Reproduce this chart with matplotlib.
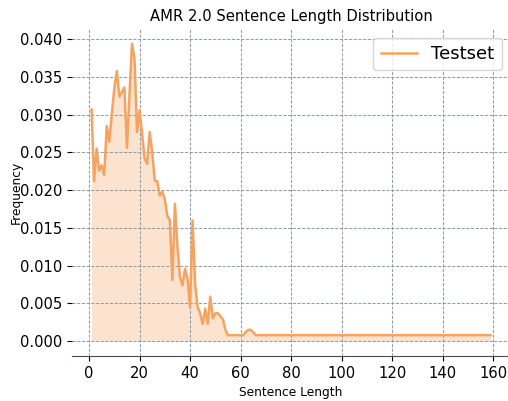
import matplotlib
matplotlib.use("Agg")
from matplotlib import pyplot as plt

# sentence lengths and their relative frequency in the test set
lengths = list(range(1, 56)) + [61, 62, 63, 64, 65, 66, 159]
freq = [0.0307, 0.0212, 0.0255, 0.0226, 0.0233, 0.0220, 0.0285, 0.0264, 0.0300, 0.0335,
        0.0358, 0.0324, 0.0330, 0.0336, 0.0256, 0.0325, 0.0394, 0.0374, 0.0277, 0.0306,
        0.0275, 0.0242, 0.0235, 0.0277, 0.0251, 0.0213, 0.0212, 0.0193, 0.0198, 0.0188,
        0.0166, 0.0160, 0.0081, 0.0182, 0.0125, 0.0085, 0.0074, 0.0096, 0.0083, 0.0045,
        0.0160, 0.0076, 0.0045, 0.0037, 0.0023, 0.0043, 0.0023, 0.0059, 0.0030, 0.0037,
        0.0037, 0.0033, 0.0029, 0.0015, 0.0008,
        0.0008, 0.0012, 0.0015, 0.0015, 0.0012, 0.0008, 0.0008]

color = "#f4a460"
fs = 10.6

fig = plt.figure(figsize=(5.08, 4.01), dpi=100)
ax = fig.add_axes([0.141, 0.112, 0.864, 0.816])

ax.plot(lengths, freq, color=color, lw=1.8, label="Testset")
ax.fill_between(lengths, freq, 0, color=color, alpha=0.3, lw=0)

ax.set_title("AMR 2.0 Sentence Length Distribution", fontsize=fs)
ax.set_xlabel("Sentence Length", fontsize=8.8)
ax.set_ylabel("Frequency", fontsize=8.8)
ax.yaxis.set_label_coords(-0.112, 0.5)
ax.set_xticks(range(0, 161, 20))
ax.set_yticks([0.0, 0.005, 0.01, 0.015, 0.02, 0.025, 0.03, 0.035, 0.04])
ax.yaxis.set_major_formatter(matplotlib.ticker.FormatStrFormatter("%.3f"))
ax.tick_params(labelsize=fs)

ax.grid(True, color="#8793a0", ls=(0, (3, 1.5)), lw=0.75, alpha=0.9)
for s in ["top", "right", "left"]:
    ax.spines[s].set_visible(False)
ax.spines["bottom"].set_color("#3e4f60")

ax.legend(loc="upper right", fontsize=13, handlelength=2.0)

fig.savefig("out.png", dpi=100)
